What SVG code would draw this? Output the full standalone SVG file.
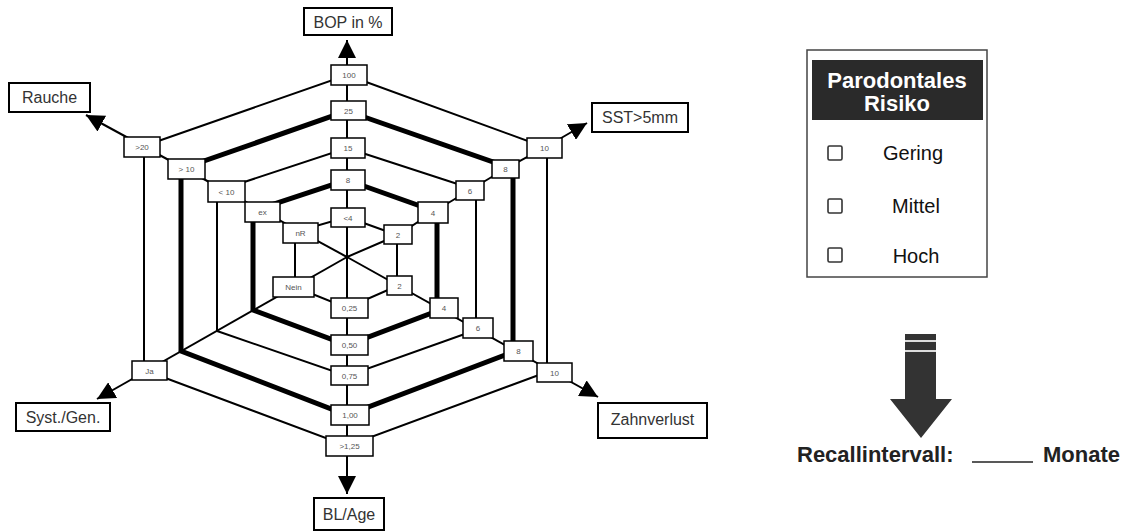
<svg xmlns="http://www.w3.org/2000/svg" width="1126" height="532" viewBox="0 0 1126 532">
<style>
.ring{fill:none;stroke:#000;stroke-linejoin:miter}
.thin{stroke-width:2}
.thick{stroke-width:5}
.axis{fill:none;stroke:#000;stroke-width:2}
.tb{fill:#fff;stroke:#000;stroke-width:1.5}
.tt{font-family:"Liberation Sans",Arial,sans-serif;font-size:8px;fill:#555;text-anchor:middle}
.lb{fill:#fff;stroke:#000;stroke-width:2}
.lt{font-family:"Liberation Sans",Arial,sans-serif;font-size:16px;fill:#333;text-anchor:middle}
.rt{font-family:"Liberation Sans",Arial,sans-serif;font-size:20px;fill:#111;text-anchor:middle}
.bt{font-family:"Liberation Sans",Arial,sans-serif;font-size:22px;font-weight:bold;fill:#222}
.cb{fill:#fff;stroke:#333;stroke-width:1.6}
</style>
<defs>
<marker id="ah" viewBox="0 0 10 10" refX="10" refY="5" markerWidth="18" markerHeight="18" markerUnits="userSpaceOnUse" orient="auto">
<path d="M0,0 L10,5 L0,10 z" fill="#000"/>
</marker>
</defs>
<g id="rings">
<polygon class="ring thin" points="347,75 547,148 547,372 347,446 144,370 144,146"/>
<polygon class="ring thick" points="347,111 513,169 513,352 347,415 181,351 181,169"/>
<polygon class="ring thin" points="347,148 476,190 476,330 347,376 217,331 217,191"/>
<polygon class="ring thick" points="347,180 437,212 437,311 347,345 253,310 253,211"/>
<polygon class="ring thin" points="347,217 397,235 397,286 347,308 295,287 295,232"/>
</g>
<g id="connectors">
<line class="axis" x1="347" y1="257" x2="347" y2="40" marker-end="url(#ah)"/>
<line class="axis" x1="347" y1="257" x2="347" y2="494" marker-end="url(#ah)"/>
<line class="axis" x1="347" y1="257" x2="86" y2="115" marker-end="url(#ah)"/>
<polyline class="axis" points="347,257 398,235 433,212 470,190 505,169 544,148 587,123" marker-end="url(#ah)"/>
<line class="axis" x1="347" y1="257" x2="598" y2="397" marker-end="url(#ah)"/>
<line class="axis" x1="347" y1="257" x2="97" y2="399" marker-end="url(#ah)"/>
</g>
<g id="ticks-bop">
<rect class="tb" x="331" y="65" width="36" height="20"/><text class="tt" x="349" y="78">100</text>
<rect class="tb" x="331" y="101" width="35" height="19"/><text class="tt" x="348.5" y="113.5">25</text>
<rect class="tb" x="331" y="138" width="34" height="20"/><text class="tt" x="348" y="151">15</text>
<rect class="tb" x="331" y="170" width="34" height="20"/><text class="tt" x="348" y="183">8</text>
<rect class="tb" x="331" y="208" width="34" height="19"/><text class="tt" x="348" y="220.5">&lt;4</text>
</g>
<g id="ticks-blage">
<rect class="tb" x="331" y="298" width="37" height="20"/><text class="tt" x="349.5" y="311">0,25</text>
<rect class="tb" x="331" y="335" width="37" height="20"/><text class="tt" x="349.5" y="348">0,50</text>
<rect class="tb" x="331" y="366" width="37" height="19"/><text class="tt" x="349.5" y="378.5">0,75</text>
<rect class="tb" x="331" y="405" width="38" height="20"/><text class="tt" x="350" y="418">1,00</text>
<rect class="tb" x="326" y="436" width="47" height="20"/><text class="tt" x="349.5" y="449">&gt;1,25</text>
</g>
<g id="ticks-rauche">
<rect class="tb" x="124" y="137" width="36" height="20"/><text class="tt" x="142" y="150">&gt;20</text>
<rect class="tb" x="168" y="159" width="37" height="20"/><text class="tt" x="186.5" y="172">&gt; 10</text>
<rect class="tb" x="208" y="181" width="37" height="21"/><text class="tt" x="226.5" y="194.5">&lt; 10</text>
<rect class="tb" x="245" y="202" width="35" height="20"/><text class="tt" x="262.5" y="215">ex</text>
<rect class="tb" x="283" y="223" width="35" height="20"/><text class="tt" x="300.5" y="236">nR</text>
</g>
<g id="ticks-sst">
<rect class="tb" x="527" y="138" width="35" height="20"/><text class="tt" x="544.5" y="151">10</text>
<rect class="tb" x="492" y="160" width="27" height="18"/><text class="tt" x="505.5" y="172">8</text>
<rect class="tb" x="456" y="181" width="28" height="19"/><text class="tt" x="470" y="193.5">6</text>
<rect class="tb" x="418" y="202" width="30" height="21"/><text class="tt" x="433" y="215.5">4</text>
<rect class="tb" x="384" y="225" width="28" height="19"/><text class="tt" x="398" y="237.5">2</text>
</g>
<g id="ticks-zahn">
<rect class="tb" x="537" y="363" width="35" height="19"/><text class="tt" x="554.5" y="375.5">10</text>
<rect class="tb" x="504" y="341" width="29" height="20"/><text class="tt" x="518.5" y="354">8</text>
<rect class="tb" x="463" y="318" width="30" height="20"/><text class="tt" x="478" y="331">6</text>
<rect class="tb" x="430" y="298" width="28" height="20"/><text class="tt" x="444" y="311">4</text>
<rect class="tb" x="387" y="276" width="25" height="19"/><text class="tt" x="399.5" y="288.5">2</text>
</g>
<g id="ticks-syst">
<rect class="tb" x="132" y="361" width="35" height="19"/><text class="tt" x="149.5" y="373.5">Ja</text>
<rect class="tb" x="273" y="277" width="41" height="20"/><text class="tt" x="293.5" y="290">Nein</text>
</g>
<g id="label-bop"><rect class="lb" x="304" y="8" width="88" height="27"/><text class="lt" x="348" y="28">BOP in %</text></g>
<g id="label-rauche"><rect class="lb" x="9" y="83" width="81" height="29"/><text class="lt" x="49.5" y="103">Rauche</text></g>
<g id="label-sst"><rect class="lb" x="592" y="103" width="96" height="29"/><text class="lt" x="640" y="123">SST&gt;5mm</text></g>
<g id="label-zahn"><rect class="lb" x="598" y="403" width="109" height="35"/><text class="lt" x="652.5" y="425">Zahnverlust</text></g>
<g id="label-syst"><rect class="lb" x="16" y="403" width="94" height="28"/><text class="lt" x="63" y="423">Syst./Gen.</text></g>
<g id="label-blage"><rect class="lb" x="314" y="498" width="70" height="32"/><text class="lt" x="349" y="520">BL/Age</text></g>
<g id="risk-box">
<rect x="807" y="50" width="180" height="227" fill="#fff" stroke="#444" stroke-width="1.5"/>
<rect x="812" y="60" width="171" height="60" fill="#2a2a2a"/>
<text x="897" y="88" text-anchor="middle" font-family="Liberation Sans, Arial, sans-serif" font-size="22" font-weight="bold" fill="#fff">Parodontales</text>
<text x="897" y="111" text-anchor="middle" font-family="Liberation Sans, Arial, sans-serif" font-size="22" font-weight="bold" fill="#fff">Risiko</text>
<rect class="cb" x="828" y="146" width="14" height="14" rx="1.5"/>
<text class="rt" x="913" y="160">Gering</text>
<rect class="cb" x="828" y="199" width="14" height="14" rx="1.5"/>
<text class="rt" x="916" y="213">Mittel</text>
<rect class="cb" x="828" y="248" width="14" height="14" rx="1.5"/>
<text class="rt" x="916" y="263">Hoch</text>
</g>
<g id="recall-arrow">
<polygon points="905,334 936,334 936,399 952,399 921,438 890,399 905,399" fill="#333"/>
<rect x="905" y="340" width="31" height="2" fill="#ddd"/>
<rect x="905" y="350" width="31" height="2" fill="#ddd"/>
</g>
<g id="recall-text">
<text class="bt" x="797" y="462">Recallintervall:</text>
<line x1="972" y1="462" x2="1033" y2="462" stroke="#222" stroke-width="1.5"/>
<text class="bt" x="1043" y="462">Monate</text>
</g>
</svg>
